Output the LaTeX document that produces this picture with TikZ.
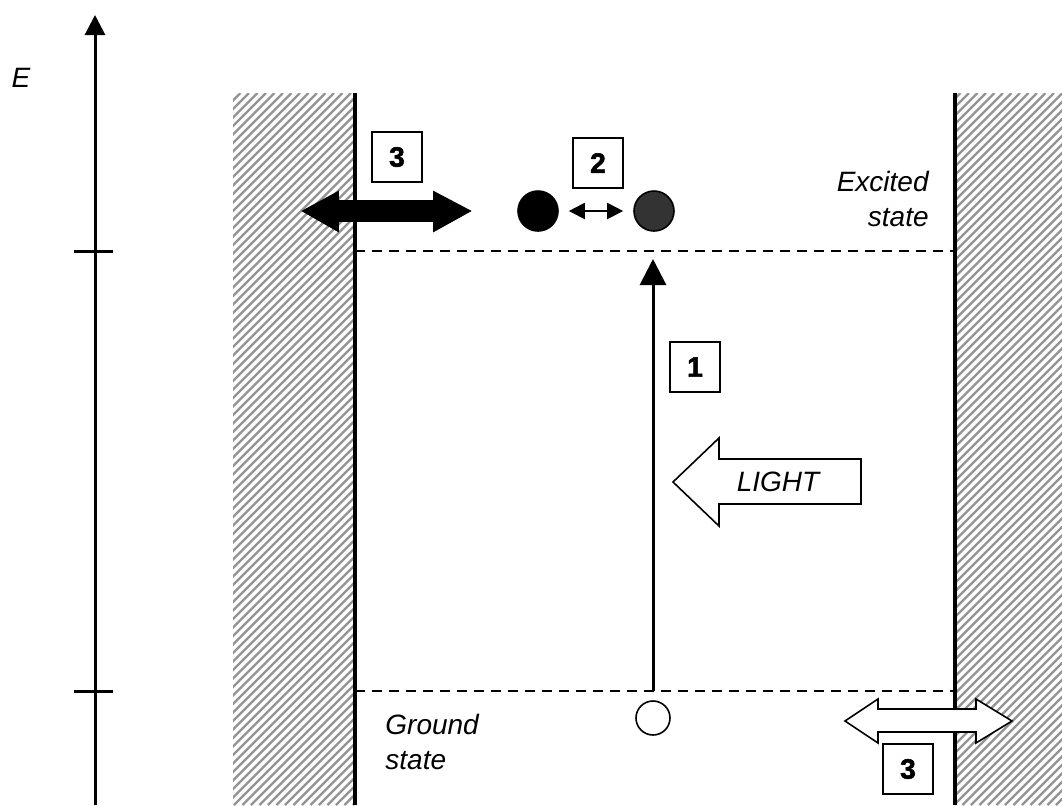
\documentclass[tikz,border=0pt]{standalone}
\usepackage{fontspec}
\setmainfont{Liberation Sans}
\newfontfamily\heavyfont{Liberation Sans Bold}[FakeBold=2]
\usetikzlibrary{arrows.meta,positioning}

\begin{document}
\begin{tikzpicture}[
  x=0.5pt, y=-0.5pt,
  font=\fontsize{14}{17.5}\selectfont\itshape,
  numbox/.style={draw,line width=0.8pt,minimum size=25pt,inner sep=0pt,
    font=\fontsize{14}{16}\heavyfont},
  lbl/.style={inner sep=0pt},
  wall/.style={line width=1.8pt},
  hatch/.style={gray!85,line width=1.1pt},
  level/.style={line width=1.2pt,dash pattern=on 5pt off 3.5pt},
  arr/.style={-{Triangle[length=13pt,width=13pt]},line width=1.5pt},
  fatarr/.style={draw,line width=0.8pt,line join=miter},
  dot/.style={circle,draw,line width=0.8pt,minimum size=20pt,inner sep=0pt}
]
\useasboundingbox (0,0) rectangle (1062,805);

% energy axis
\coordinate (axB) at (95,805);
\coordinate (axT) at (95,15);
\draw[-{Triangle[length=10pt,width=10pt]},line width=1.5pt] (axB) -- (axT);
\foreach \y in {251,691}
  \draw[line width=1.5pt] (74,\y) -- (113,\y);
\node[lbl] (E) at (21,78) {E};

% walls
\begin{scope}
\clip (233,93) rectangle (355,805);
\foreach \a in {-480,-471.5,...,360}
  \draw[hatch] (\a,805) -- ++(712,-712);
\end{scope}
\begin{scope}
\clip (955,93) rectangle (1062,805);
\foreach \a in {240,248.5,...,1065}
  \draw[hatch] (\a,805) -- ++(712,-712);
\end{scope}
\draw[wall] (355,93) -- (355,805);
\draw[wall] (955,93) -- (955,805);

% levels
\draw[level] (355,251) -- (955,251);
\draw[level] (355,691) -- (955,691);
\node[lbl,align=right,anchor=east] (exc) at (929,199) {Excited\\state};
\node[lbl,align=left,anchor=west] (gnd) at (385,742) {Ground\\state};

% electrons
\node[dot,fill=black] (e1) at (538,211) {};
\node[dot,fill=black!80] (e2) at (654,211) {};
\node[dot,fill=white,minimum size=17pt] (g) at (653,718) {};
\draw[{Triangle[length=8pt,width=8pt]}-{Triangle[length=8pt,width=8pt]},line width=1pt,
  shorten <=5pt,shorten >=5pt] (e1) -- (e2);
\node[numbox] (n2) at (598,163) {2};

% excitation
\coordinate (gl) at (653,691);
\coordinate (el) at (653,259);
\draw[arr] (gl) -- (el);
\node[numbox] (n1) at (695,367) {1};
\draw[fatarr,fill=white] (673,482) -- (719,438) -- (719,459) -- (861,459)
  -- (861,504) -- (719,504) -- (719,526) -- cycle;
\node[lbl] (light) at (778,482) {LIGHT};

% escape through the walls
\draw[fatarr,fill=black] (303,211) -- (338,192) -- (338,201) -- (434,201) -- (434,192)
  -- (470,211) -- (434,231) -- (434,221) -- (338,221) -- (338,231) -- cycle;
\node[numbox] (n3a) at (397,157) {3};
\draw[fatarr,fill=white] (845,721) -- (878,699) -- (878,709) -- (976,709) -- (976,699)
  -- (1012,721) -- (976,743) -- (976,732) -- (878,732) -- (878,743) -- cycle;
\node[numbox] (n3b) at (908,769) {3};
\end{tikzpicture}
\end{document}
